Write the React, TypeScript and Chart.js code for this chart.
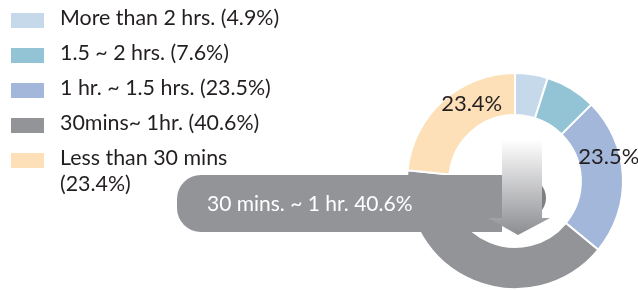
import React, { useEffect, useRef } from 'react';
import { Chart, registerables } from 'chart.js';

Chart.register(...registerables);

const categories = ['More than 2 hrs.', '1.5 ~ 2 hrs.', '1 hr. ~ 1.5 hrs.', '30mins~ 1hr.', 'Less than 30 mins'];
const shares = [4.9, 7.6, 23.5, 40.6, 23.4];
const sliceColors = ['#c6d9eb', '#93c4d6', '#a3b7db', '#939498', '#fde0b8'];
const legendTexts = ['More than 2 hrs. (4.9%)', '1.5 ~ 2 hrs. (7.6%)', '1 hr. ~ 1.5 hrs. (23.5%)', '30mins~ 1hr. (40.6%)', 'Less than 30 mins\n(23.4%)'];
const sliceLabels = ['', '', '23.5%', '', '23.4%'];
const calloutText = '30 mins. ~ 1 hr. 40.6%';
const calloutIndex = 3;

const FONT = 'Lato, "Noto Sans", sans-serif';
const TEXT_COLOR = '#231f20';

const labelOffsets: Record<number, [number, number]> = { 2: [7, -20], 4: [15, -13] };

const overlayPlugin = {
  id: 'overlay',
  afterDatasetsDraw(chart: any) {
    const ctx: CanvasRenderingContext2D = chart.ctx;
    const arcs = chart.getDatasetMeta(0).data;
    const arc = arcs[calloutIndex];
    const cx = arc.x;
    const cy = arc.y;
    const inner = arc.innerRadius;
    ctx.save();
    // callout bar
    const top = cy - 6;
    const bottom = cy + 51;
    const left = 177;
    const right = cx + 31;
    const h = bottom - top;
    ctx.fillStyle = '#7e7f83';
    ctx.beginPath();
    ctx.roundRect(cx - 20, top + 3, right - (cx - 20), 40, [0, 22, 22, 0]);
    ctx.fill();
    ctx.fillStyle = sliceColors[calloutIndex];
    ctx.beginPath();
    ctx.roundRect(left, top, cx - 13 - left, h, [24, 0, 0, 24]);
    ctx.fill();
    // arrow
    const grad = ctx.createLinearGradient(0, cy - inner + 25, 0, cy + 54);
    grad.addColorStop(0, '#ffffff');
    grad.addColorStop(1, '#8c8d91');
    ctx.fillStyle = grad;
    ctx.beginPath();
    ctx.moveTo(cx - 13, cy - inner + 25);
    ctx.lineTo(cx + 27, cy - inner + 25);
    ctx.lineTo(cx + 27, cy + 37);
    ctx.lineTo(cx + 35, cy + 37);
    ctx.lineTo(cx + 3, cy + 54);
    ctx.lineTo(cx - 27, cy + 37);
    ctx.lineTo(cx - 13, cy + 37);
    ctx.closePath();
    ctx.fill();
    // callout text
    ctx.fillStyle = '#ffffff';
    ctx.font = '21px ' + FONT;
    ctx.textBaseline = 'middle';
    ctx.textAlign = 'left';
    ctx.fillText(calloutText, 207, top + h / 2 + 1);
    // slice labels
    ctx.fillStyle = TEXT_COLOR;
    ctx.font = '22px ' + FONT;
    ctx.textAlign = 'center';
    sliceLabels.forEach((t, i) => {
      if (!t) return;
      const p = arcs[i].getCenterPoint();
      const off = labelOffsets[i] || [0, 0];
      ctx.fillText(t, p.x + off[0], p.y + off[1]);
    });
    // legend
    ctx.textAlign = 'left';
    ctx.font = '21.4px ' + FONT;
    const rowY = [20, 55, 90, 125, 160];
    legendTexts.forEach((t, i) => {
      ctx.fillStyle = sliceColors[i];
      ctx.fillRect(11, rowY[i] - 7, 33, 15);
      ctx.fillStyle = TEXT_COLOR;
      t.split('\n').forEach((line, j) => {
        ctx.fillText(line, 60, rowY[i] - 2 + j * 26);
      });
    });
    ctx.restore();
  },
};

export default function App() {
  const ref = useRef<HTMLCanvasElement>(null);
  useEffect(() => {
    if (!ref.current) return;
    const chart = new Chart(ref.current, {
      type: 'doughnut',
      data: {
        labels: categories,
        datasets: [
          {
            data: shares,
            backgroundColor: sliceColors,
            borderColor: '#ffffff',
            borderWidth: 2,
          },
        ],
      },
      options: {
        responsive: false,
        animation: false,
        cutout: '61%',
        layout: { padding: { left: 406, right: 14, top: 72, bottom: 0 } },
        plugins: { legend: { display: false }, tooltip: { enabled: false } },
        events: [],
      },
      plugins: [overlayPlugin],
    });
    return () => chart.destroy();
  }, []);
  return (
    <div style={{ position: 'absolute', left: 0, top: 0, width: 638, height: 290, background: '#fff' }}>
      <canvas ref={ref} width={638} height={290} />
    </div>
  );
}
